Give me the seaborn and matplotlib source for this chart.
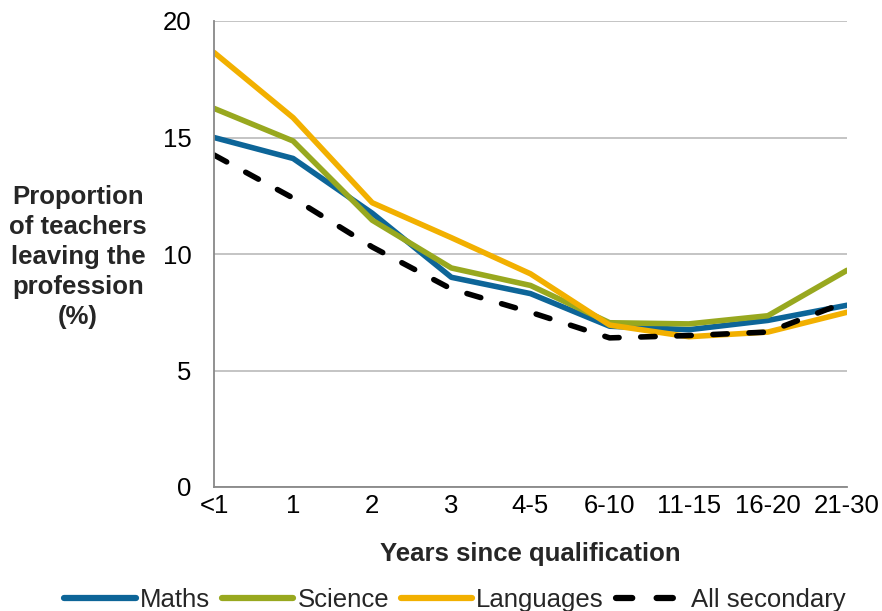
import numpy as np
import pandas as pd
import matplotlib
matplotlib.use("Agg")
import matplotlib.pyplot as plt
import seaborn as sns

categories = ["<1", "1", "2", "3", "4-5", "6-10", "11-15", "16-20", "21-30"]
maths = [15.0, 14.1, 11.75, 9.0, 8.3, 6.9, 6.75, 7.15, 7.8]
science = [16.25, 14.85, 11.45, 9.4, 8.65, 7.05, 7.0, 7.35, 9.3]
languages = [18.65, 15.85, 12.2, 10.7, 9.15, 6.95, 6.45, 6.65, 7.5]
all_secondary = [14.25, 12.4, 10.3, 8.5, 7.5, 6.4, 6.5, 6.65, 7.95]
series_names = ["Maths", "Science", "Languages", "All secondary"]
colors = ["#0D6598", "#98A81F", "#F2B000", "#000000"]

sns.set_theme(style="white")
plt.rcParams["font.family"] = ["Liberation Sans", "DejaVu Sans"]
plt.rcParams["lines.dash_capstyle"] = "round"
plt.rcParams["lines.solid_capstyle"] = "round"
FS = 18.5

rows = []
for name, vals in zip(series_names, [maths, science, languages, all_secondary]):
    for i, (c, v) in enumerate(zip(categories, vals)):
        rows.append({"pos": i, "cat": c, "value": v, "series": name})
df = pd.DataFrame(rows)

fig = plt.figure(figsize=(8.82, 6.11), dpi=100)
ax = fig.add_axes([214 / 882, 1 - 487 / 611, (847 - 214) / 882, (487 - 21) / 611])

sns.lineplot(data=df, x="pos", y="value", hue="series", style="series",
             hue_order=series_names, style_order=series_names,
             palette=dict(zip(series_names, colors)),
             dashes={"Maths": "", "Science": "", "Languages": "", "All secondary": (2.6, 3.9)},
             linewidth=4, ax=ax, legend=True)

ax.set_xlim(0, len(categories) - 1)
ax.set_ylim(0, 20)
ax.set_yticks([0, 5, 10, 15, 20])
ax.set_xticks(range(len(categories)))
ax.set_xticklabels(categories)
ax.yaxis.grid(True, color="#BFBFBF", linewidth=1.3)
ax.set_axisbelow(True)
for side in ["top", "right"]:
    ax.spines[side].set_visible(False)
for side in ["left", "bottom"]:
    ax.spines[side].set_color("#888888")
    ax.spines[side].set_linewidth(1.3)
ax.tick_params(axis="both", which="major", labelsize=FS, colors="#888888",
               labelcolor="black", length=6, width=1.3, direction="out", pad=10)
ax.tick_params(axis="x", direction="inout", length=8, pad=1)

ax.set_xlabel("Years since qualification", fontsize=FS, fontweight="bold", labelpad=17)
ax.set_ylabel("")
fig.text(78 / 882, 1 - 257 / 611, "Proportion\nof teachers\nleaving the\nprofession\n(%)",
         ha="center", va="center", fontsize=FS, fontweight="bold", linespacing=1.32)

handles, labels = ax.get_legend_handles_labels()
ax.get_legend().remove()
for h in handles:
    h.set_linewidth(4.5)
fig.legend(handles, labels, loc="center", bbox_to_anchor=(455 / 882, 1 - 600 / 611),
           ncol=4, frameon=False, fontsize=FS, handlelength=2.8, handletextpad=0.15,
           columnspacing=0.45, borderpad=0)

fig.savefig("out.png", dpi=100)
